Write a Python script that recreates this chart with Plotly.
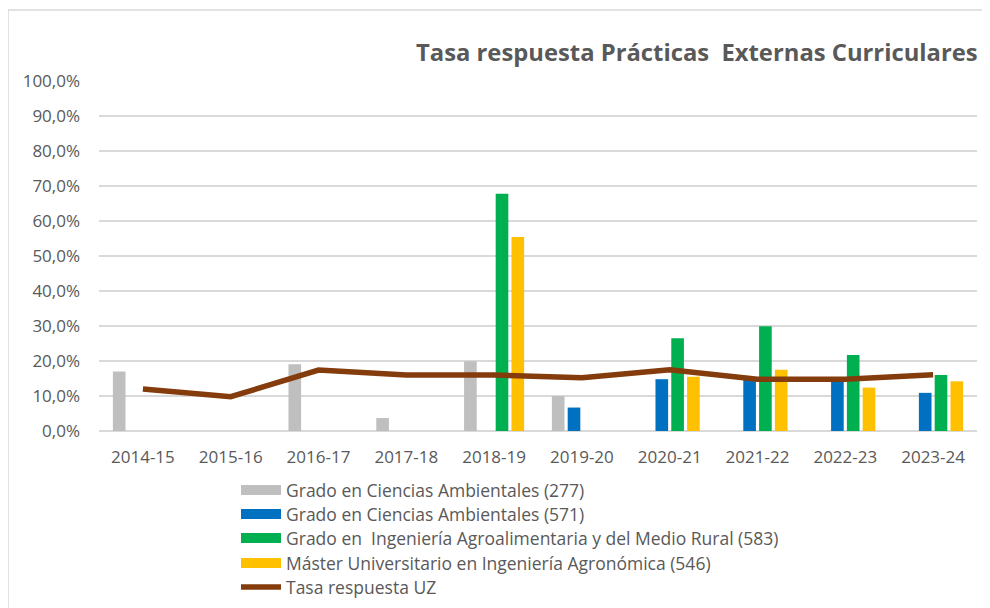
import plotly.graph_objects as go

categories = ["2014-15", "2015-16", "2016-17", "2017-18", "2018-19",
              "2019-20", "2020-21", "2021-22", "2022-23", "2023-24"]

cca_277 = [17.0, None, 19.1, 3.7, 19.9, 10.0, None, None, None, None]
cca_571 = [None, None, None, None, None, 6.7, 14.8, 14.6, 14.6, 10.9]
ingagro_583 = [None, None, None, None, 67.8, None, 26.5, 29.9, 21.7, 16.0]
master_546 = [None, None, None, None, 55.4, None, 15.5, 17.5, 12.4, 14.2]
tasa_uz = [12.0, 9.8, 17.4, 16.0, 16.0, 15.2, 17.5, 14.8, 14.8, 16.1]

series_names = [
    "Grado en Ciencias Ambientales (277)",
    "Grado en Ciencias Ambientales (571)",
    "Grado en  Ingeniería Agroalimentaria y del Medio Rural (583)",
    "Máster Universitario en Ingeniería Agronómica (546)",
    "Tasa respuesta UZ",
]
colors = ["#BFBFBF", "#0070C0", "#00B050", "#FFC000", "#843C0C"]

# page offset (body margin) compensation
OFF = 8
W, H = 990, 608
# target plot area on screen: x 99..977, y 81..431
ML = 99 - OFF
MT = 81 - OFF
PW, PH = 878, 350
MR = W - ML - PW
MB = H - MT - PH

def px_x(p):
    return (p - OFF - ML) / PW

def px_y(p):
    return (H - MB - (p - OFF)) / PH

legend_ids = ["legend", "legend2", "legend3", "legend4", "legend5"]
legend_rows = [490, 514, 538, 563, 587]

fig = go.Figure()
for i, (vals, name, col) in enumerate(zip(
        [cca_277, cca_571, ingagro_583, master_546], series_names[:4], colors[:4])):
    fig.add_trace(go.Bar(
        x=categories, y=[v / 100 if v is not None else None for v in vals],
        name=name, marker=dict(color=col, line=dict(width=0)),
        showlegend=False, legendgroup=f"g{i}",
    ))
    # legend swatch as a wide rectangle (Excel style)
    fig.add_trace(go.Scatter(
        x=[None], y=[None], mode="lines", name=name,
        line=dict(color=col, width=10), legendgroup=f"g{i}",
        legend=legend_ids[i], hoverinfo="skip",
    ))
fig.add_trace(go.Scatter(
    x=categories, y=[v / 100 for v in tasa_uz], name=series_names[4],
    mode="lines", line=dict(color=colors[4], width=5.5),
    legend=legend_ids[4],
))

font_family = "Open Sans, Liberation Sans, sans-serif"
legend_common = dict(
    xanchor="left", yanchor="middle",
    font=dict(size=17.5, color="#595959", family=font_family),
    itemwidth=40, bgcolor="rgba(0,0,0,0)",
)
legend_layout = {
    lid: dict(x=px_x(236), y=px_y(row), **legend_common)
    for lid, row in zip(legend_ids, legend_rows)
}

fig.update_layout(
    width=W, height=H,
    margin=dict(l=ML, r=MR, t=MT, b=MB, autoexpand=False),
    paper_bgcolor="white", plot_bgcolor="white",
    barmode="group", bargap=0.28, bargroupgap=0.2,
    font=dict(family=font_family, color="#595959", size=17),
    showlegend=True,
    xaxis=dict(
        type="category", showgrid=False, showline=False, ticks="",
        ticklabelstandoff=14,
        tickfont=dict(size=17, color="#595959"),
    ),
    yaxis=dict(
        range=[0, 1.0], dtick=0.1, tickformat=".1%",
        showgrid=True, gridcolor="#D9D9D9", gridwidth=1.5,
        zeroline=True, zerolinecolor="#D9D9D9", zerolinewidth=1.5,
        showline=False, ticks="", ticklabelstandoff=18,
        tickfont=dict(size=17, color="#595959"),
    ),
    separators=",.",
    annotations=[dict(
        text="<b>Tasa respuesta Prácticas  Externas Curriculares</b>",
        xref="paper", yref="paper", x=px_x(414), y=px_y(52),
        xanchor="left", yanchor="middle", showarrow=False,
        font=dict(size=23.8, color="#595959", family=font_family),
    )],
    shapes=[dict(
        type="rect", xref="paper", yref="paper",
        x0=px_x(8), x1=px_x(1010), y0=px_y(640), y1=px_y(10),
        line=dict(color="#D9D9D9", width=1.5), fillcolor="rgba(0,0,0,0)",
        layer="below",
    )],
    **legend_layout,
)

fig.write_html("out.html")
